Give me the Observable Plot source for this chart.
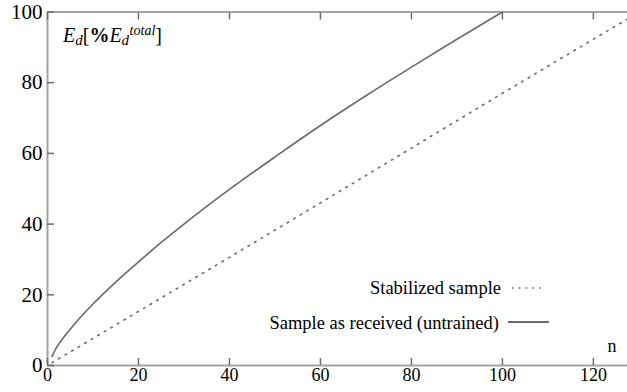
<!DOCTYPE html>
<html>
<head>
<meta charset="utf-8">
<script src="https://cdn.jsdelivr.net/npm/d3@7"></script>
<script src="https://cdn.jsdelivr.net/npm/@observablehq/plot@0.6"></script>
<style>
  html, body { margin: 0; padding: 0; background: #fff; }
  #wrap { position: relative; width: 627px; height: 392px; }
  #overlay { position: absolute; left: 0; top: 0; pointer-events: none; }
</style>
</head>
<body>
<div id="wrap"></div>
<script>
// Solid curve: sample as received (untrained)
const receivedN = [1, 2, 4, 6, 8, 10, 15, 20, 25, 30, 40, 50, 60, 70, 80, 90, 100];
const receivedE = [2.6, 5.1, 8.7, 11.8, 14.7, 17.4, 23.6, 29.3, 34.8, 40.0, 49.8, 59.0, 67.9, 76.3, 84.4, 92.3, 100];
// Dotted line: stabilized sample
const stabilizedN = [1, 20, 40, 60, 80, 100, 120, 127.5];
const stabilizedE = [0.8, 15.3, 30.6, 46.0, 61.5, 77.0, 92.3, 98.0];

const xTicks = [0, 20, 40, 60, 80, 100, 120];
const yTicks = [0, 20, 40, 60, 80, 100];
const legendLabels = ["Stabilized sample", "Sample as received (untrained)"];
const xLabel = "n";

const received = receivedN.map((n, i) => ({n, e: receivedE[i]}));
const stabilized = stabilizedN.map((n, i) => ({n, e: stabilizedE[i]}));

const fontName = "Liberation Serif";
const axisColor = "#a3a3a3";
const tickColor = "#6e6e6e";
const lineColor = "#6a6a6a";

const chart = Plot.plot({
  width: 627,
  height: 392,
  marginLeft: 47,
  marginRight: 0,
  marginTop: 11.5,
  marginBottom: 27,
  style: {fontFamily: fontName, color: "#000", background: "#fff"},
  x: {domain: [0, 127.5], label: null},
  y: {domain: [0, 100], label: null},
  marks: [
    // frame lines (left, bottom, top)
    Plot.ruleX([0], {stroke: axisColor, strokeWidth: 2}),
    Plot.ruleY([0], {stroke: axisColor, strokeWidth: 2}),
    Plot.ruleY([100], {stroke: axisColor, strokeWidth: 2}),
    // inward ticks
    Plot.axisY({ticks: yTicks, anchor: "left", tickSize: -7, text: null, label: null, stroke: tickColor, strokeWidth: 1.5}),
    Plot.axisX({ticks: xTicks, anchor: "bottom", tickSize: -7, text: null, label: null, stroke: tickColor, strokeWidth: 1.5}),
    Plot.axisX({ticks: xTicks, anchor: "top", tickSize: -7, text: null, label: null, stroke: tickColor, strokeWidth: 1.5}),
    // labels
    Plot.axisY({ticks: yTicks, anchor: "left", tickSize: 0, tickPadding: 5, fontSize: 21, fill: "#000", label: null}),
    Plot.axisX({ticks: xTicks, anchor: "bottom", tickSize: 0, tickPadding: 3, fontSize: 18, fill: "#000", label: null}),
    // data
    Plot.line(stabilized, {x: "n", y: "e", stroke: lineColor, strokeWidth: 1.6, strokeDasharray: "1.6,6", clip: true}),
    Plot.line(received, {x: "n", y: "e", stroke: lineColor, strokeWidth: 1.6, curve: "monotone-x", clip: true})
  ]
});

const wrap = document.getElementById("wrap");
wrap.appendChild(chart);

// overlay: axis title, x label and legend
const ov = d3.select(wrap).append("svg")
  .attr("id", "overlay")
  .attr("width", 627).attr("height", 392)
  .attr("font-family", fontName);

// y title: E_d[%E_d^total]
const t = ov.append("text").attr("x", 63).attr("y", 42).attr("font-size", 20).attr("fill", "#000");
t.append("tspan").attr("font-style", "italic").text("E");
t.append("tspan").attr("font-style", "italic").attr("font-size", 15).attr("dy", 3).text("d");
t.append("tspan").attr("dy", -3).text("[");
t.append("tspan").attr("font-weight", "bold").text("%");
t.append("tspan").attr("font-style", "italic").text("E");
t.append("tspan").attr("font-style", "italic").attr("font-size", 15).attr("dy", 3).text("d");
t.append("tspan").attr("font-style", "italic").attr("font-size", 14).attr("dy", -10).attr("dx", 0.5).text("total");
t.append("tspan").attr("dy", 7).text("]");

// x label
ov.append("text").attr("x", 612).attr("y", 352).attr("text-anchor", "middle")
  .attr("font-size", 18).attr("fill", "#000").text(xLabel);

// legend
ov.append("text").attr("x", 501).attr("y", 293.5).attr("text-anchor", "end")
  .attr("font-size", 18.5).attr("fill", "#000").text(legendLabels[0]);
ov.append("line").attr("x1", 512).attr("x2", 546).attr("y1", 288).attr("y2", 288)
  .attr("stroke", lineColor).attr("stroke-width", 1.6).attr("stroke-dasharray", "1.6,5.2");
ov.append("text").attr("x", 499).attr("y", 328.5).attr("text-anchor", "end")
  .attr("font-size", 18.5).attr("fill", "#000").text(legendLabels[1]);
ov.append("line").attr("x1", 508).attr("x2", 549).attr("y1", 322).attr("y2", 322)
  .attr("stroke", lineColor).attr("stroke-width", 2);
</script>
</body>
</html>
